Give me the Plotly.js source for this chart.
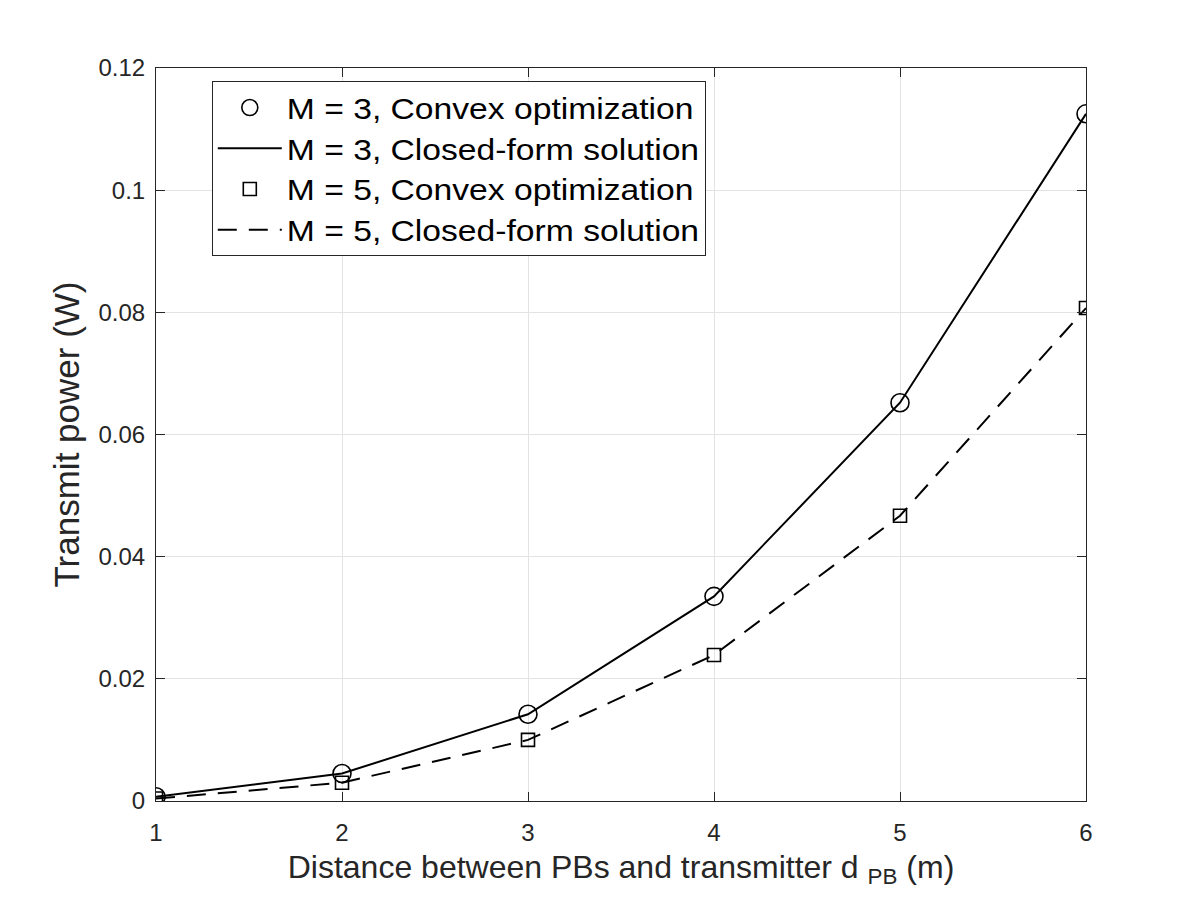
<!DOCTYPE html>
<html><head><meta charset="utf-8">
<script src="https://cdn.plot.ly/plotly-3.0.1.min.js"></script>
<style>body{margin:0;background:#fff}#plot{width:1200px;height:900px}</style>
</head><body><div id="plot"></div>
<script>
const distance = [1, 2, 3, 4, 5, 6];
const m3Convex = [0.0007, 0.0045, 0.0142, 0.0335, 0.0652, 0.1125];
const m3Closed = [0.0007, 0.0045, 0.0142, 0.0335, 0.0652, 0.1125];
const m5Convex = [0.0004, 0.0030, 0.0100, 0.0239, 0.0467, 0.0807];
const m5Closed = [0.0004, 0.0030, 0.0100, 0.0239, 0.0467, 0.0807];
const yTicks = [0, 0.02, 0.04, 0.06, 0.08, 0.1, 0.12];
const yTickLabels = ['0', '0.02', '0.04', '0.06', '0.08', '0.1', '0.12'];

const FONT = 'Liberation Sans, Arial, Helvetica, sans-serif';

const traces = [
  {x: distance, y: m3Convex, mode: 'markers', name: 'M = 3, Convex optimization',
   marker: {symbol: 'circle-open', size: 18, color: '#000', line: {width: 1.6, color: '#000'}}},
  {x: distance, y: m3Closed, mode: 'lines', name: 'M = 3, Closed-form solution',
   line: {color: '#000', width: 2}},
  {x: distance, y: m5Convex, mode: 'markers', name: 'M = 5, Convex optimization',
   marker: {symbol: 'square-open', size: 13, color: '#000', line: {width: 1.6, color: '#000'}}},
  {x: distance, y: m5Closed, mode: 'lines', name: 'M = 5, Closed-form solution',
   line: {color: '#000', width: 2, dash: '19px,12px'}}
];

const axisCommon = {
  showline: true, linecolor: '#262626', linewidth: 1, mirror: 'ticks',
  ticks: 'inside', ticklen: 9, tickcolor: '#262626', tickwidth: 1,
  showgrid: true, gridcolor: '#e3e3e3', gridwidth: 1, zeroline: false,
  tickfont: {family: FONT, size: 24, color: '#262626'}
};

const layout = {
  width: 1200, height: 900,
  margin: {l: 156, r: 114, t: 68, b: 99},
  paper_bgcolor: '#fff', plot_bgcolor: '#fff',
  showlegend: true,
  xaxis: Object.assign({}, axisCommon, {
    range: [1, 6], tickvals: distance, ticktext: distance.map(String),
    ticklabelstandoff: 10,
    title: {text: 'Distance between PBs and transmitter d <sub>PB</sub> (m)', standoff: 10,
            font: {family: FONT, size: 32, color: '#262626'}}
  }),
  yaxis: Object.assign({}, axisCommon, {
    range: [0, 0.12], tickvals: yTicks, ticktext: yTickLabels,
    ticklabelstandoff: 5,
    title: {text: 'Transmit power (W)', standoff: 8,
            font: {family: FONT, size: 35, color: '#262626'}}
  }),
  legend: {
    x: 0.06, y: 0.982, xanchor: 'left', yanchor: 'top',
    bgcolor: '#fff', bordercolor: '#262626', borderwidth: 1,
    font: {family: FONT, size: 29, color: '#000'},
    tracegroupgap: 0, itemwidth: 64
  }
};

const gd = document.getElementById('plot');
Plotly.newPlot(gd, traces, layout, {displayModeBar: false, staticPlot: true}).then(function () {
  // widen legend text slightly (reference font renders wider)
  const S = 1.16;
  const texts = gd.querySelectorAll('.legend .legendtext');
  let extra = 0;
  texts.forEach(function (t) {
    const w = t.getComputedTextLength();
    t.setAttribute('textLength', (w * S).toFixed(1));
    t.setAttribute('lengthAdjust', 'spacingAndGlyphs');
    extra = Math.max(extra, w * (S - 1));
  });
  const bg = gd.querySelector('.legend rect.bg');
  if (bg) bg.setAttribute('width', (parseFloat(bg.getAttribute('width')) + extra).toFixed(1));
  gd.querySelectorAll('clipPath[id^="legend"] rect').forEach(function (r) {
    r.setAttribute('width', (parseFloat(r.getAttribute('width')) + extra + 5).toFixed(1));
  });
});
</script></body></html>
